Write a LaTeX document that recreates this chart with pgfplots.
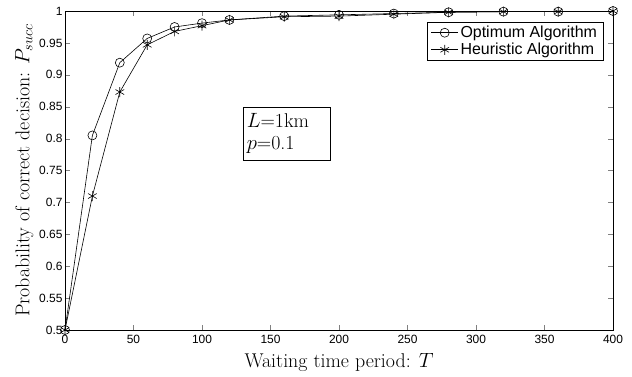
\documentclass[border=0pt]{standalone}
\usepackage{pgfplots}
\pgfplotsset{compat=1.18}
\usepackage{fontspec}
\newfontfamily\arial{Liberation Sans}
\begin{document}
\begin{tikzpicture}[x=1bp,y=1bp]
\useasboundingbox (-65bp,-47bp) rectangle (567bp,330bp);
\begin{axis}[
  at={(0,0)}, anchor=south west,
  scale only axis, width=548bp, height=319bp,
  xmin=0, xmax=400, ymin=0.5, ymax=1,
  xtick={0,50,...,400},
  ytick={0.5,0.55,...,1.0},
  yticklabels={0.5,0.55,0.6,0.65,0.7,0.75,0.8,0.85,0.9,0.95,1},
  tick align=inside,
  major tick length=5bp,
  ticklabel style={font=\arial\fontsize{12}{14}\selectfont},
  xticklabel style={yshift=-2bp},
  yticklabel style={xshift=1bp},
  /pgf/number format/assume math mode=true,
  xlabel={Waiting time period: $T$},
  ylabel={Probability of correct decision: $P_{succ}$},
  label style={font=\fontsize{20}{22}\selectfont},
  xlabel style={yshift=-3bp},
  ylabel style={yshift=-1bp},
  legend style={at={(0.982,0.9655)}, anchor=north east, font=\arial\fontsize{16}{18}\selectfont, draw=black, inner xsep=4bp, inner ysep=3bp, row sep=2bp,
    nodes={inner xsep=2bp, inner ysep=1bp}},
  legend cell align=left,
  legend image code/.code={\draw[mark repeat=2,mark phase=2,#1] plot coordinates {(0bp,0bp) (13.5bp,0bp) (27bp,0bp)};},
  axis line style={line width=0.6bp},
]
\addplot[black, line width=0.6bp, mark=o, mark size=4.5bp, mark options={line width=0.6bp}] coordinates {
(0,0.5) (20,0.805) (40,0.919) (60,0.957) (80,0.975) (100,0.981) (120,0.986) (160,0.992) (200,0.994) (240,0.996) (280,0.998) (320,0.999) (360,0.999) (400,1.0)};
\addlegendentry{Optimum Algorithm}
\addplot[black, line width=0.6bp, mark=asterisk, mark size=5bp, mark options={line width=0.6bp}] coordinates {
(0,0.5) (20,0.71) (40,0.873) (60,0.947) (80,0.968) (100,0.977) (120,0.986) (160,0.991) (200,0.992) (240,0.995) (280,0.998) (320,0.999) (360,0.999) (400,1.0)};
\addlegendentry{Heuristic Algorithm}
\node[draw=black, fill=white, anchor=north west, align=left, inner sep=3bp, font=\fontsize{20}{22}\selectfont, minimum width=87bp, minimum height=53bp, text width=80bp] at (axis cs:130,0.85) {$L$=1km\\$p$=0.1};
\end{axis}
\end{tikzpicture}
\end{document}
